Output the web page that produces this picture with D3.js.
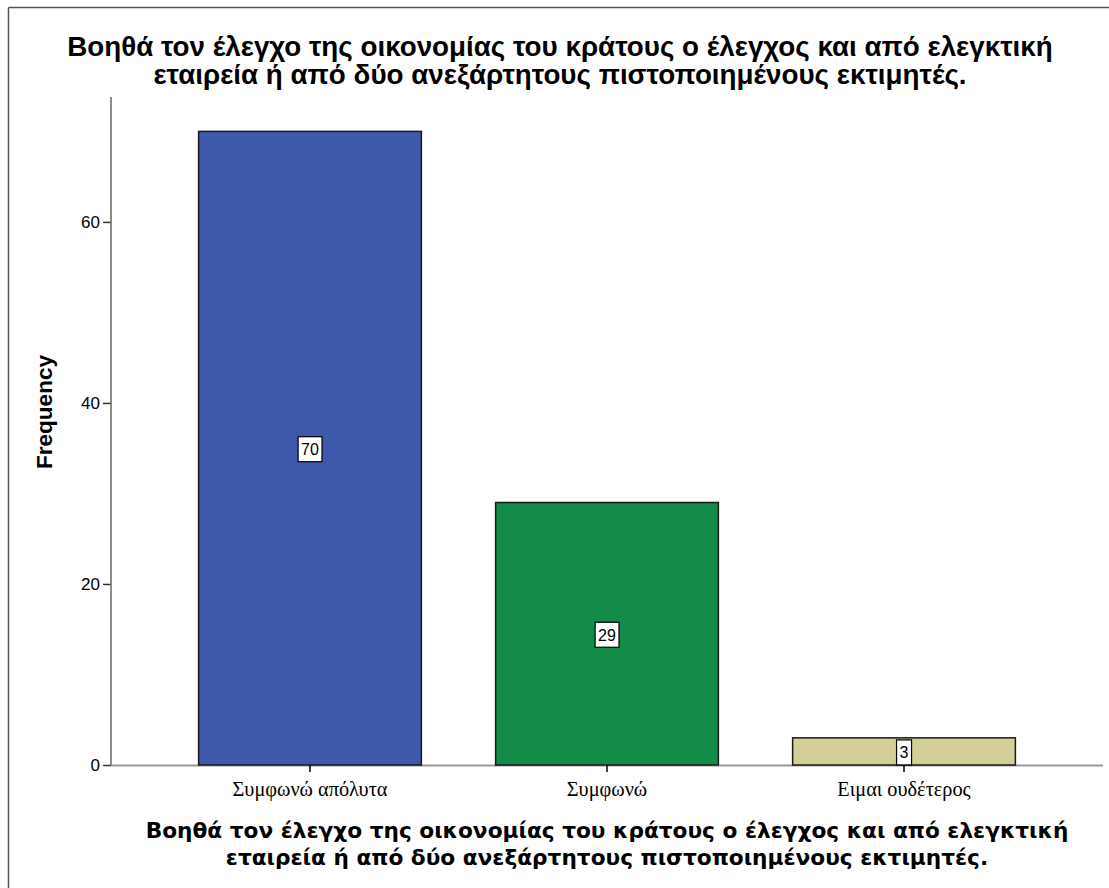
<!DOCTYPE html>
<html>
<head>
<meta charset="utf-8">
<script src="https://cdn.jsdelivr.net/npm/d3@7"></script>
<style>
  html, body { margin: 0; padding: 0; background: #fff; }
  svg { display: block; }
</style>
</head>
<body>
<svg id="chart" width="1109" height="888"></svg>
<script>
const titleLines = [
  "Βοηθά τον έλεγχο της οικονομίας του κράτους ο έλεγχος και από ελεγκτική",
  "εταιρεία ή από δύο ανεξάρτητους πιστοποιημένους εκτιμητές."
];
const categories = ["Συμφωνώ απόλυτα", "Συμφωνώ", "Ειμαι ουδέτερος"];
const values = [70, 29, 3];
const colors = ["#3e58ac", "#128c48", "#d4ce98"];
const yTicks = [0, 20, 40, 60];
const yLabel = "Frequency";

const svg = d3.select("#chart");
const W = 1109, H = 888;

// outer frame (top and left edges visible)
svg.append("line").attr("x1", 8.5).attr("x2", W).attr("y1", 7.5).attr("y2", 7.5)
  .attr("stroke", "#555").attr("stroke-width", 1.5);
svg.append("line").attr("x1", 8.5).attr("x2", 8.5).attr("y1", 7.5).attr("y2", H)
  .attr("stroke", "#555").attr("stroke-width", 1.5);

const x = d3.scaleBand().domain(categories).range([111, 1103])
  .paddingInner(0.25).paddingOuter(0.295);
const y = d3.scaleLinear().domain([0, 73.8]).range([765, 97]);

function fitNode(n, target) {
  const fs = parseFloat(n.getAttribute("font-size"));
  const w = n.getComputedTextLength();
  n.setAttribute("font-size", (fs * target / w).toFixed(2));
  n.style.fontSize = (fs * target / w).toFixed(2) + "px";
}

// Title
const topT = titleLines.map((t, i) => svg.append("text").attr("x", 560).attr("y", i === 0 ? 56 : 84)
    .attr("text-anchor", "middle").attr("font-family", "Liberation Sans, Arial, sans-serif")
    .attr("font-weight", "bold").attr("font-size", 20).attr("fill", "#000").text(t));
fitNode(topT[0].node(), 986);
topT[1].attr("font-size", topT[0].attr("font-size"));

// Y axis
const gy = svg.append("g").attr("transform", "translate(111,0)")
  .call(d3.axisLeft(y).tickValues(yTicks).tickSize(8).tickPadding(3).tickFormat(d3.format("d")));
gy.attr("font-size", null).attr("font-family", null);
gy.select(".domain").remove();
gy.selectAll(".tick line").attr("stroke", "#333").attr("stroke-width", 1.5);
gy.selectAll(".tick text").attr("font-family", "Liberation Sans, Arial, sans-serif")
  .attr("font-size", 17).style("font-size", "17px").attr("fill", "#000");
svg.append("line").attr("x1", 111).attr("x2", 111).attr("y1", y(73.8)).attr("y2", y(0))
  .attr("stroke", "#666").attr("stroke-width", 1.5);

// Y label
const yl = svg.append("text").attr("transform", "translate(52,412) rotate(-90)")
  .attr("text-anchor", "middle").attr("font-family", "Liberation Sans, Arial, sans-serif")
  .attr("font-weight", "bold").attr("font-size", 18).attr("fill", "#000").text(yLabel);
fitNode(yl.node(), 114);

// baseline
svg.append("line").attr("x1", 111).attr("x2", 1103).attr("y1", y(0) + 0.5).attr("y2", y(0) + 0.5)
  .attr("stroke", "#9a9a9a").attr("stroke-width", 2);

// Bars
svg.selectAll("rect.bar").data(values).enter().append("rect").attr("class", "bar")
  .attr("x", (d, i) => x(categories[i]))
  .attr("y", d => y(d))
  .attr("width", x.bandwidth())
  .attr("height", d => y(0) - y(d))
  .attr("fill", (d, i) => colors[i])
  .attr("stroke", "#1a1a1a").attr("stroke-width", 1.5);

// X axis ticks + labels
const gx = svg.append("g").attr("transform", `translate(0,${y(0)})`)
  .call(d3.axisBottom(x).tickSize(7).tickPadding(10));
gx.attr("font-size", null).attr("font-family", null);
gx.select(".domain").remove();
gx.selectAll(".tick line").attr("stroke", "#000").attr("stroke-width", 1.5);
gx.selectAll(".tick text").attr("font-family", "Liberation Serif, Times New Roman, serif")
  .attr("font-size", 14).attr("fill", "#000");
{
  const n = gx.select(".tick text").node();
  fitNode(n, 155);
  gx.selectAll(".tick text").attr("font-size", n.getAttribute("font-size"))
    .style("font-size", n.style.fontSize);
}

// Value label boxes
const lbl = svg.selectAll("g.lbl").data(values).enter().append("g").attr("class", "lbl")
  .attr("transform", (d, i) => `translate(${x(categories[i]) + x.bandwidth() / 2},${(y(d) + y(0)) / 2 + 1})`);
lbl.each(function(d) {
  const g = d3.select(this);
  const t = g.append("text").attr("text-anchor", "middle").attr("dy", "0.36em")
    .attr("font-family", "Liberation Sans, Arial, sans-serif").attr("font-size", 16)
    .attr("fill", "#000").text(d);
  const bb = t.node().getBBox();
  g.insert("rect", "text").attr("x", bb.x - 3).attr("y", -12.5).attr("width", bb.width + 6)
    .attr("height", 25).attr("fill", "#fff").attr("stroke", "#000").attr("stroke-width", 1.2);
});

// Bottom axis title
const bs = titleLines.map((t, i) => svg.append("text").attr("x", 607).attr("y", i === 0 ? 838 : 865)
    .attr("text-anchor", "middle").attr("font-family", "DejaVu Sans, Verdana, sans-serif")
    .attr("font-weight", "bold").attr("font-size", 18).attr("fill", "#000").text(t));
fitNode(bs[0].node(), 923);
bs[1].attr("font-size", bs[0].attr("font-size"));
</script>
</body>
</html>
